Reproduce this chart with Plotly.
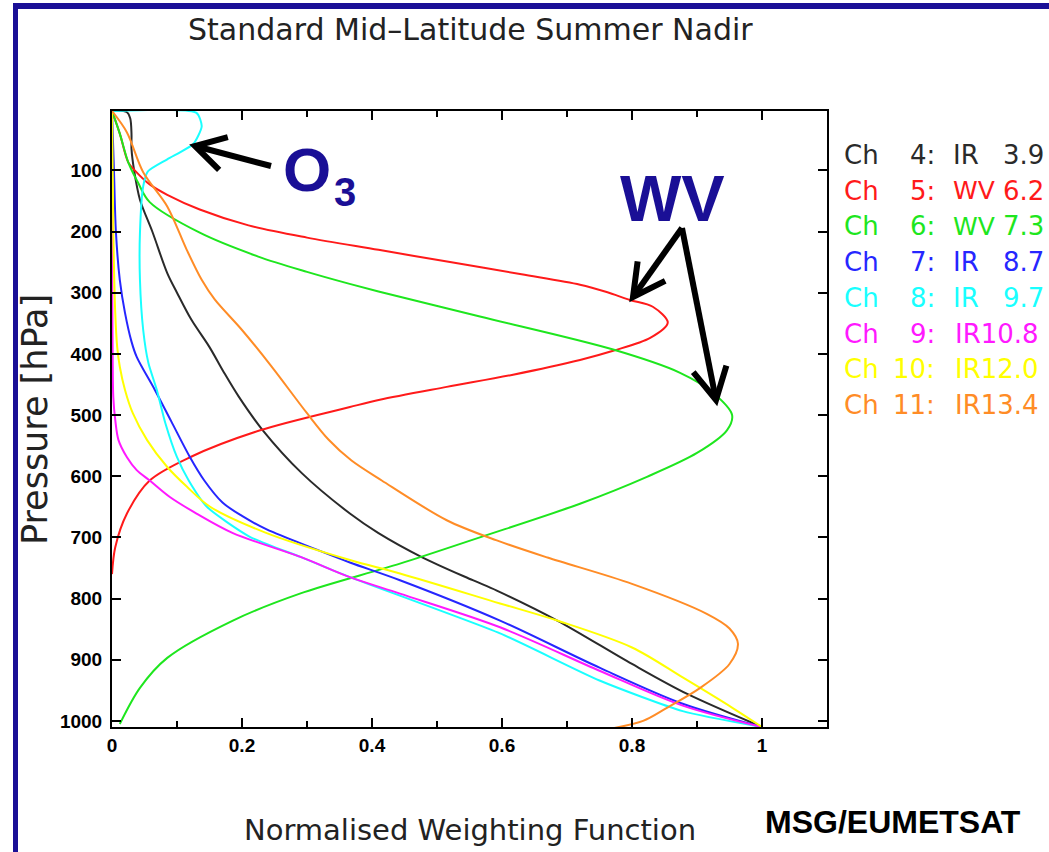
import math
import plotly.graph_objects as go

# ---------------- data ----------------
ch_labels = ["4:", "5:", "6:", "7:", "8:", "9:", "10:", "11:"]
band_labels = ["IR 3.9", "WV 6.2", "WV 7.3", "IR 8.7", "IR 9.7", "IR10.8", "IR12.0", "IR13.4"]
colors = ["#2a2a2a", "#ff1a1a", "#1ee61e", "#2626ff", "#19ffff", "#ff19ff", "#ffff00", "#ff8c26"]

p_ch4 = [3, 5, 15, 40, 65, 100, 148, 200, 268, 300, 344, 389, 430, 470, 525, 595, 661, 693, 733, 770, 787, 836, 907, 956, 1010]
w_ch4 = [0.0, 0.023, 0.028, 0.03, 0.03, 0.034, 0.043, 0.062, 0.085, 0.10, 0.122, 0.15, 0.172, 0.195, 0.232, 0.292, 0.366, 0.41, 0.478, 0.555, 0.592, 0.685, 0.80, 0.885, 1.0]

p_ch5 = [3, 40, 87, 100, 123, 140, 164, 190, 210, 230, 250, 270, 287, 299, 312, 323, 349, 374, 395, 410, 434, 454, 475, 487, 525, 569, 607, 661, 716, 760]
w_ch5 = [0.0, 0.012, 0.025, 0.035, 0.058, 0.085, 0.135, 0.21, 0.30, 0.41, 0.52, 0.63, 0.72, 0.761, 0.797, 0.832, 0.855, 0.828, 0.771, 0.72, 0.617, 0.515, 0.412, 0.366, 0.228, 0.12, 0.058, 0.023, 0.005, 0.0]

p_ch6 = [3, 40, 87, 120, 152, 202, 241, 266, 284, 298, 339, 393, 431, 464, 500, 525, 562, 601, 645, 700, 743, 792, 836, 897, 946, 1005]
w_ch6 = [0.0, 0.012, 0.025, 0.04, 0.058, 0.135, 0.225, 0.30, 0.36, 0.41, 0.566, 0.771, 0.874, 0.925, 0.954, 0.946, 0.90, 0.823, 0.72, 0.566, 0.443, 0.289, 0.186, 0.085, 0.043, 0.012]

p_ch7 = [3, 100, 200, 279, 333, 380, 405, 459, 510, 569, 607, 643, 665, 687, 720, 741, 770, 836, 913, 972, 1010]
w_ch7 = [0.0, 0.003, 0.006, 0.012, 0.02, 0.03, 0.038, 0.066, 0.091, 0.12, 0.142, 0.17, 0.20, 0.238, 0.315, 0.366, 0.443, 0.597, 0.75, 0.878, 1.0]

p_ch8 = [3, 6, 28, 57, 82, 102, 126, 202, 279, 361, 415, 459, 513, 569, 607, 650, 699, 732, 765, 857, 934, 984, 1010]
w_ch8 = [0.0, 0.13, 0.138, 0.125, 0.085, 0.055, 0.048, 0.043, 0.043, 0.048, 0.056, 0.069, 0.082, 0.10, 0.118, 0.146, 0.212, 0.29, 0.366, 0.597, 0.75, 0.878, 1.0]

p_ch9 = [3, 200, 400, 471, 508, 541, 569, 590, 607, 634, 661, 693, 732, 765, 792, 847, 918, 975, 1010]
w_ch9 = [0.0, 0.0, 0.001, 0.002, 0.005, 0.01, 0.023, 0.038, 0.058, 0.089, 0.13, 0.186, 0.29, 0.366, 0.443, 0.597, 0.75, 0.878, 1.0]

p_ch10 = [3, 200, 333, 389, 421, 459, 497, 541, 585, 617, 650, 693, 737, 759, 808, 836, 880, 929, 979, 1010]
w_ch10 = [0.0, 0.002, 0.005, 0.008, 0.012, 0.02, 0.032, 0.054, 0.085, 0.115, 0.151, 0.238, 0.366, 0.443, 0.597, 0.685, 0.80, 0.878, 0.955, 1.0]

p_ch11 = [3, 38, 103, 159, 230, 279, 311, 361, 420, 497, 540, 574, 607, 672, 705, 733, 776, 825, 849, 874, 907, 946, 979, 1000, 1013]
w_ch11 = [0.0, 0.023, 0.048, 0.085, 0.115, 0.138, 0.158, 0.20, 0.245, 0.30, 0.333, 0.368, 0.415, 0.515, 0.592, 0.67, 0.80, 0.915, 0.95, 0.963, 0.95, 0.905, 0.853, 0.817, 0.766]

pressures = [p_ch4, p_ch5, p_ch6, p_ch7, p_ch8, p_ch9, p_ch10, p_ch11]
weights = [w_ch4, w_ch5, w_ch6, w_ch7, w_ch8, w_ch9, w_ch10, w_ch11]

x_tickvals = [0, 0.2, 0.4, 0.6, 0.8, 1.0]
x_ticktext = ["0", "0.2", "0.4", "0.6", "0.8", "1"]
y_tickvals = [100, 200, 300, 400, 500, 600, 700, 800, 900, 1000]

# ---------------- layout geometry ----------------
W, H = 1049, 852
L, R, T, B = 112, 827, 111, 727   # plot box in pixels


def px(x):
    return (x - L) / (R - L)


def py(y):
    return (B - y) / (B - T)


NAVY = "#1a0f96"
TXT = "#222222"
FONT = "DejaVu Sans"

fig = go.Figure()
for p, w, c in zip(pressures, weights, colors):
    sm = 0.6 if c == "#19ffff" else 0.9
    fig.add_trace(go.Scatter(x=w, y=p, mode="lines", line=dict(color=c, width=2, shape="spline", smoothing=sm),
                             showlegend=False, hoverinfo="skip"))

annotations = []
shapes = []

# title and axis titles
annotations.append(dict(text="Standard Mid\u2013Latitude Summer Nadir", x=px(470), y=py(30),
                        xref="paper", yref="paper", showarrow=False, xanchor="center", yanchor="middle",
                        font=dict(family=FONT, size=30, color=TXT)))
annotations.append(dict(text="Normalised Weighting Function", x=px(470), y=py(830),
                        xref="paper", yref="paper", showarrow=False, xanchor="center", yanchor="middle",
                        font=dict(family=FONT, size=29, color=TXT)))
annotations.append(dict(text="Pressure [hPa]", x=px(35), y=py(420), textangle=-90,
                        xref="paper", yref="paper", showarrow=False, xanchor="center", yanchor="middle",
                        font=dict(family=FONT, size=35, color=TXT)))
annotations.append(dict(text="<b>MSG/EUMETSAT</b>", x=px(893), y=py(822),
                        xref="paper", yref="paper", showarrow=False, xanchor="center", yanchor="middle",
                        font=dict(family="Liberation Sans", size=32, color="black")))

# legend as coloured text lines
for i, (chn, band, c) in enumerate(zip(ch_labels, band_labels, colors)):
    yy = py(155 + i * 35.7)
    common = dict(xref="paper", yref="paper", showarrow=False, yanchor="middle")
    annotations.append(dict(text="Ch", x=px(842), y=yy, xanchor="left",
                            font=dict(family=FONT, size=26, color=c), **common))
    annotations.append(dict(text=chn, x=px(937), y=yy, xanchor="right",
                            font=dict(family=FONT, size=26, color=c), **common))
    if " " in band:
        a, b = band.split(" ")
        annotations.append(dict(text=a, x=px(951), y=yy, xanchor="left",
                                font=dict(family=FONT, size=25 if a == "WV" else 26, color=c), **common))
        annotations.append(dict(text=b, x=px(1001), y=yy, xanchor="left",
                                font=dict(family=FONT, size=26, color=c), **common))
    else:
        annotations.append(dict(text=band, x=px(953), y=yy, xanchor="left",
                                font=dict(family=FONT, size=26, color=c), **common))

# O3 and WV labels
annotations.append(dict(text="<b>O</b>", x=px(307), y=py(170), xref="paper", yref="paper", showarrow=False,
                        xanchor="center", yanchor="middle", font=dict(family="Liberation Sans", size=62, color=NAVY)))
annotations.append(dict(text="<b>3</b>", x=px(345), y=py(192), xref="paper", yref="paper", showarrow=False,
                        xanchor="center", yanchor="middle", font=dict(family="Liberation Sans", size=40, color=NAVY)))
annotations.append(dict(text="<b>WV</b>", x=px(672), y=py(198), xref="paper", yref="paper", showarrow=False,
                        xanchor="center", yanchor="middle", font=dict(family="Liberation Sans", size=65, color=NAVY)))


def arrow(tail, tip, arm=36, ang=28):
    (tx, ty), (hx, hy) = tail, tip
    shapes.append(dict(type="line", xref="paper", yref="paper", x0=px(tx), y0=py(ty), x1=px(hx), y1=py(hy),
                       line=dict(color="black", width=6)))
    base = math.atan2(ty - hy, tx - hx)
    pts = []
    for s in (-1, 1):
        a = base + s * math.radians(ang)
        pts.append((hx + arm * math.cos(a), hy + arm * math.sin(a)))
    path = "M {} {} L {} {} L {} {}".format(px(pts[0][0]), py(pts[0][1]), px(hx), py(hy), px(pts[1][0]), py(pts[1][1]))
    shapes.append(dict(type="path", xref="paper", yref="paper", path=path,
                       line=dict(color="black", width=6)))


arrow((271, 166), (195, 146), arm=34, ang=30)
arrow((682, 228), (633, 297), arm=36, ang=28)
arrow((682, 228), (716, 400), arm=36, ang=28)

# blue frame of the slide
shapes.append(dict(type="rect", xref="paper", yref="paper", x0=px(13), x1=px(1049), y0=py(3), y1=py(9),
                   fillcolor=NAVY, line=dict(width=0), layer="above"))
shapes.append(dict(type="rect", xref="paper", yref="paper", x0=px(13), x1=px(18), y0=py(3), y1=py(852),
                   fillcolor=NAVY, line=dict(width=0), layer="above"))

tickfont = dict(family="Liberation Sans Narrow, Liberation Sans", size=19, color="black", weight="bold")

fig.update_layout(
    width=W, height=H,
    margin=dict(l=L, r=W - R, t=T, b=H - B, pad=0),
    paper_bgcolor="white", plot_bgcolor="white",
    showlegend=False,
    annotations=annotations, shapes=shapes,
    xaxis=dict(range=[0, 1.1], tickvals=x_tickvals, ticktext=x_ticktext, ticks="inside", ticklen=9,
               tickwidth=2, tickcolor="black", showline=True, linecolor="black", linewidth=2,
               mirror="allticks", showgrid=False, zeroline=False, tickfont=tickfont,
               minor=dict(dtick=0.1, ticks="inside", ticklen=6, tickwidth=2, tickcolor="black", showgrid=False)),
    yaxis=dict(range=[1010, 3], tickvals=y_tickvals, ticks="inside", ticklen=9,
               tickwidth=2, tickcolor="black", showline=True, linecolor="black", linewidth=2,
               mirror="allticks", showgrid=False, zeroline=False, tickfont=tickfont, ticklabelstandoff=4),
)

fig.write_html("out.html")
